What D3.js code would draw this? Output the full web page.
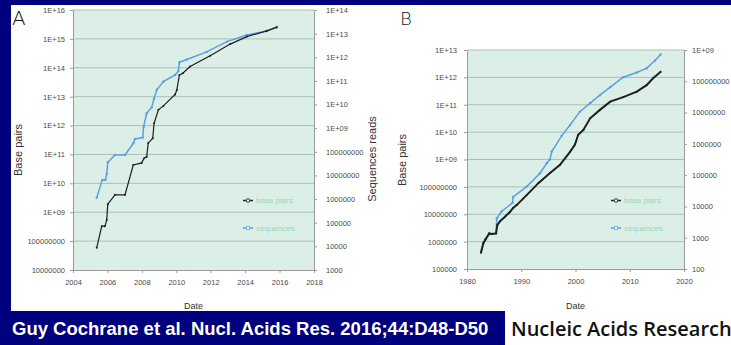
<!DOCTYPE html>
<html>
<head>
<meta charset="utf-8">
<script src="https://cdn.jsdelivr.net/npm/d3@7"></script>
<style>
  body { margin: 0; background: #fff; }
  text { font-family: "Liberation Sans", Arial, sans-serif; }
</style>
</head>
<body>
<div id="chart"></div>
<script>
'use strict';

// Panel A: read data, base pairs (left axis) and sequences (right axis)
var aBpDates = [2005.38, 2005.67, 2005.86, 2005.96, 2006.02, 2006.44, 2007.02, 2007.5, 2007.99, 2008.13,
    2008.28, 2008.37, 2008.63, 2008.71, 2008.96, 2009.25, 2009.93, 2010.03, 2010.18, 2010.38,
    2010.8, 2011.97, 2013.13, 2014.1, 2015.26, 2015.84];
var aBpValues = [5.9e7, 3.3e8, 3.3e8, 5.4e8, 1.9e9, 4e9, 4e9, 4.3e10, 5.1e10, 7.4e10,
    8.3e10, 2.5e11, 3.6e11, 1.2e12, 3.5e12, 4.8e12, 1.2e13, 1.7e13, 5.6e13, 6.5e13,
    1.1e14, 2.6e14, 6.6e14, 1.2e15, 1.9e15, 2.5e15];
var aSeqDates = [2005.38, 2005.7, 2005.88, 2005.96, 2006.02, 2006.44, 2007.02, 2007.5, 2007.6, 2008.05,
    2008.1, 2008.28, 2008.57, 2008.71, 2008.87, 2009.25, 2009.93, 2010.12, 2010.18, 2010.61,
    2011.77, 2012.94, 2014.1, 2015.26, 2015.84];
var aSeqValues = [1.15e6, 6.5e6, 6.5e6, 1.15e7, 3.6e7, 7.4e7, 7.4e7, 2.3e8, 3.5e8, 4e8,
    1.15e9, 4.3e9, 7.6e9, 1.8e10, 4.2e10, 9.3e10, 1.8e11, 2.6e11, 6.2e11, 8.1e11,
    1.7e12, 4.6e12, 8.7e12, 1.3e13, 1.95e13];
var aXTicks = [2004, 2006, 2008, 2010, 2012, 2014, 2016, 2018];
var aLeftTicks = [1e7, 1e8, 1e9, 1e10, 1e11, 1e12, 1e13, 1e14, 1e15, 1e16];
var aRightTicks = [1e3, 1e4, 1e5, 1e6, 1e7, 1e8, 1e9, 1e10, 1e11, 1e12, 1e13, 1e14];

// Panel B: assembled/annotated data
var bBpDates = [1982.58, 1983.0, 1983.4, 1984.1, 1984.5, 1985.35, 1985.6, 1986.1, 1987.0, 1987.9,
    1988.5, 1989.2, 1991.0, 1993.2, 1995.3, 1997.1, 1999.0, 1999.9, 2000.5, 2001.45,
    2002.7, 2004.5, 2006.4, 2008.8, 2011.3, 2013.1, 2014.3, 2015.7];
var bBpValues = [4e5, 8.7e5, 1.2e6, 2e6, 1.9e6, 2e6, 4.1e6, 5.6e6, 8.1e6, 1.2e7,
    1.7e7, 2.2e7, 5e7, 1.4e8, 3.2e8, 6.3e8, 1.9e9, 3.5e9, 8e9, 1.2e10,
    3.2e10, 6.5e10, 1.3e11, 1.9e11, 3e11, 5.2e11, 9.3e11, 1.6e12];
var bSeqDates = [1982.58, 1983.0, 1983.4, 1984.1, 1984.5, 1985.35, 1985.5, 1986.4, 1988.4, 1988.5,
    1991.0, 1993.45, 1994.7, 1995.3, 1995.6, 1997.45, 1999.0, 2000.8, 2002.7, 2004.5,
    2006.4, 2008.8, 2011.3, 2013.1, 2014.65, 2015.7];
var bSeqValues = [330, 660, 890, 1380, 1320, 1380, 4170, 7000, 1.3e4, 2e4,
    4.3e4, 1.15e5, 2.4e5, 3.2e5, 5.6e5, 1.8e6, 4e6, 1.07e7, 2e7, 3.6e7,
    6.5e7, 1.35e8, 1.9e8, 2.6e8, 4.6e8, 7.2e8];
var bXTicks = [1980, 1990, 2000, 2010, 2020];
var bLeftTicks = [1e5, 1e6, 1e7, 1e8, 1e9, 1e10, 1e11, 1e12, 1e13];
var bRightTicks = [1e2, 1e3, 1e4, 1e5, 1e6, 1e7, 1e8, 1e9];

var legendLabels = ['base pairs', 'sequences'];

var navy = '#00007e';
var plotFill = '#dcefe6';
var gridColor = '#aac0b7';
var axisColor = '#9a9a9a';
var tickTextColor = '#4a4a4a';
var bpColor = '#1e1e1e';
var seqColor = '#5c9fe2';
var legendTextColor = '#98d3bf';

var svg = d3.select('#chart').append('svg')
    .attr('width', 731)
    .attr('height', 345);

// frame
svg.append('rect').attr('width', 731).attr('height', 345).attr('fill', '#fff');
svg.append('rect').attr('width', 731).attr('height', 5).attr('fill', navy);
svg.append('rect').attr('width', 11).attr('height', 345).attr('fill', navy);
svg.append('rect').attr('x', 0).attr('y', 311).attr('width', 505).attr('height', 34).attr('fill', navy);

svg.append('text')
    .attr('x', 12)
    .attr('y', 335)
    .attr('fill', '#fff')
    .style('font-size', '18.5px')
    .style('font-weight', 'bold')
    .text('Guy Cochrane et al. Nucl. Acids Res. 2016;44:D48-D50');

svg.append('text')
    .attr('x', 511)
    .attr('y', 336)
    .attr('fill', '#111')
    .style('font-family', '"Open Sans", sans-serif')
    .style('font-size', '20px')
    .style('font-weight', 600)
    .text('Nucleic Acids Research');

var formatTick = function(v) {
    var e = Math.round(Math.log10(v));
    if (e >= 9) {
        return '1E+' + (e < 10 ? '0' : '') + e;
    }
    return String(Math.round(v));
};

function drawPanel(userOptions) {
    var defaultOptions = {
        letter: '',
        letterX: 0,
        letterSize: 20,
        left: 0, right: 0, top: 0, bottom: 0,
        xDomain: [0, 1],
        xTicks: [],
        leftDomain: [1, 10],
        leftTicks: [],
        rightDomain: [1, 10],
        rightTicks: [],
        leftPad: 5,
        rightPad: 8,
        bpDates: [], bpValues: [],
        seqDates: [], seqValues: [],
        bpWidth: 1.2,
        leftTitleX: 0, leftTitleY: 0,
        rightTitle: '', rightTitleX: 0, rightTitleY: 0,
        legendX: 0
    };
    var options = Object.assign({}, defaultOptions, userOptions);

    var x = d3.scaleLinear().domain(options.xDomain).range([options.left, options.right]);
    var yLeft = d3.scaleLog().domain(options.leftDomain).range([options.bottom, options.top]);
    var yRight = d3.scaleLog().domain(options.rightDomain).range([options.bottom, options.top]);

    var g = svg.append('g');

    g.append('rect')
        .attr('x', options.left)
        .attr('y', options.top)
        .attr('width', options.right - options.left)
        .attr('height', options.bottom - options.top)
        .attr('fill', plotFill);

    g.selectAll('line.grid')
        .data(options.leftTicks.slice(1))
        .enter().append('line')
        .attr('class', 'grid')
        .attr('x1', options.left)
        .attr('x2', options.right)
        .attr('y1', function(d) { return yLeft(d); })
        .attr('y2', function(d) { return yLeft(d); })
        .attr('stroke', gridColor)
        .attr('stroke-width', 1);

    var styleAxis = function(sel) {
        sel.selectAll('path, line').attr('stroke', axisColor);
        sel.selectAll('text')
            .attr('fill', tickTextColor)
            .style('font-size', '7.5px');
    };

    g.append('g')
        .attr('transform', 'translate(' + options.left + ',0)')
        .call(d3.axisLeft(yLeft).tickValues(options.leftTicks).tickFormat(formatTick)
            .tickSize(3).tickSizeOuter(0).tickPadding(options.leftPad))
        .call(styleAxis);

    g.append('g')
        .attr('transform', 'translate(' + options.right + ',0)')
        .call(d3.axisRight(yRight).tickValues(options.rightTicks).tickFormat(formatTick)
            .tickSize(3).tickSizeOuter(0).tickPadding(options.rightPad))
        .call(styleAxis);

    g.append('g')
        .attr('transform', 'translate(0,' + options.bottom + ')')
        .call(d3.axisBottom(x).tickValues(options.xTicks).tickFormat(d3.format('d'))
            .tickSize(3).tickSizeOuter(0).tickPadding(7))
        .call(styleAxis);

    var bpLine = d3.line()
        .x(function(d, i) { return x(options.bpDates[i]); })
        .y(function(d) { return yLeft(d); });
    var seqLine = d3.line()
        .x(function(d, i) { return x(options.seqDates[i]); })
        .y(function(d) { return yRight(d); });

    g.append('path')
        .datum(options.seqValues)
        .attr('d', seqLine)
        .attr('fill', 'none')
        .attr('stroke', seqColor)
        .attr('stroke-width', 1.5);

    g.selectAll('circle.seq')
        .data(options.seqValues)
        .enter().append('circle')
        .attr('class', 'seq')
        .attr('cx', function(d, i) { return x(options.seqDates[i]); })
        .attr('cy', function(d) { return yRight(d); })
        .attr('r', 1.2)
        .attr('fill', seqColor);

    g.append('path')
        .datum(options.bpValues)
        .attr('d', bpLine)
        .attr('fill', 'none')
        .attr('stroke', bpColor)
        .attr('stroke-width', options.bpWidth);

    g.selectAll('circle.bp')
        .data(options.bpValues)
        .enter().append('circle')
        .attr('class', 'bp')
        .attr('cx', function(d, i) { return x(options.bpDates[i]); })
        .attr('cy', function(d) { return yLeft(d); })
        .attr('r', 1)
        .attr('fill', bpColor);

    // legend
    var legend = g.selectAll('g.legend')
        .data(legendLabels)
        .enter().append('g')
        .attr('class', 'legend')
        .attr('transform', function(d, i) {
            return 'translate(' + options.legendX + ',' + (200.5 + i * 27.5) + ')';
        });
    legend.append('line')
        .attr('x1', 0).attr('x2', 10)
        .attr('stroke', function(d, i) { return i === 0 ? bpColor : seqColor; })
        .attr('stroke-width', 1.5);
    legend.append('circle')
        .attr('cx', 5).attr('r', 1.8)
        .attr('fill', '#fff')
        .attr('stroke', function(d, i) { return i === 0 ? bpColor : seqColor; })
        .attr('stroke-width', 0.9);
    legend.append('text')
        .attr('x', 13)
        .attr('dy', '0.33em')
        .attr('fill', legendTextColor)
        .style('font-size', '8px')
        .text(function(d) { return d; });

    // titles
    g.append('text')
        .attr('x', options.letterX)
        .attr('y', 25)
        .attr('fill', '#111')
        .style('font-size', options.letterSize + 'px')
        .style('font-family', '"DejaVu Sans", sans-serif')
        .style('font-weight', 200)
        .text(options.letter);

    g.append('text')
        .attr('transform', 'translate(' + options.leftTitleX + ',' + options.leftTitleY + ') rotate(-90)')
        .attr('text-anchor', 'middle')
        .attr('fill', '#333')
        .style('font-size', '11px')
        .text('Base pairs');

    if (options.rightTitle) {
        g.append('text')
            .attr('transform', 'translate(' + options.rightTitleX + ',' + options.rightTitleY + ') rotate(-90)')
            .attr('text-anchor', 'middle')
            .attr('fill', '#333')
            .style('font-size', '11px')
            .text(options.rightTitle);
    }

    g.append('text')
        .attr('x', (options.left + options.right) / 2)
        .attr('y', 309)
        .attr('text-anchor', 'middle')
        .attr('fill', '#333')
        .style('font-size', '9px')
        .text('Date');
}

drawPanel({
    letter: 'A', letterX: 12, letterSize: 20,
    left: 73, right: 314, top: 10, bottom: 270,
    xDomain: [2004, 2018], xTicks: aXTicks,
    leftDomain: [1e7, 1e16], leftTicks: aLeftTicks,
    rightDomain: [1e3, 1e14], rightTicks: aRightTicks,
    leftPad: 5, rightPad: 9,
    bpDates: aBpDates, bpValues: aBpValues,
    seqDates: aSeqDates, seqValues: aSeqValues,
    bpWidth: 1.2,
    leftTitleX: 22, leftTitleY: 150,
    rightTitle: 'Sequences reads', rightTitleX: 376, rightTitleY: 159,
    legendX: 243
});

drawPanel({
    letter: 'B', letterX: 400, letterSize: 18,
    left: 467, right: 684, top: 50, bottom: 269,
    xDomain: [1980, 2020], xTicks: bXTicks,
    leftDomain: [1e5, 1e13], leftTicks: bLeftTicks,
    rightDomain: [1e2, 1e9], rightTicks: bRightTicks,
    leftPad: 7, rightPad: 5,
    bpDates: bBpDates, bpValues: bBpValues,
    seqDates: bSeqDates, seqValues: bSeqValues,
    bpWidth: 2,
    leftTitleX: 406, leftTitleY: 160,
    legendX: 611
});
</script>
</body>
</html>
